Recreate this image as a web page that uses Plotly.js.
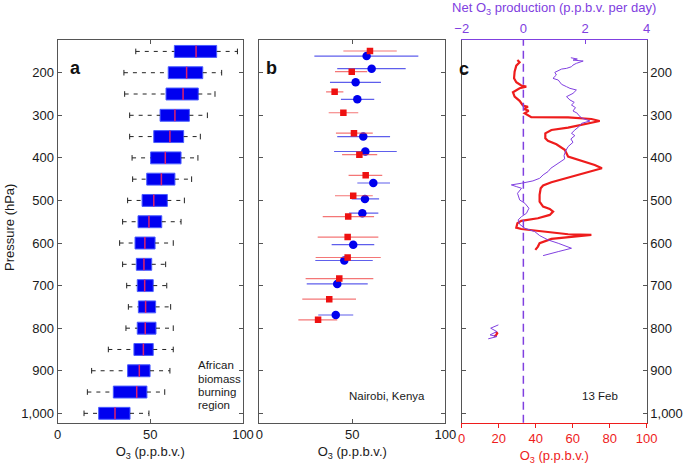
<!DOCTYPE html>
<html>
<head>
<meta charset="utf-8">
<script src="https://cdn.plot.ly/plotly-3.0.1.min.js"></script>
<style>html,body{margin:0;padding:0;background:#fff;}#chart{width:685px;height:466px;}</style>
</head>
<body>
<div id="chart"></div>
<script>
// ---------- Panel a: box statistics (African biomass burning region) ----------
const boxP   = [150,200,250,300,350,400,450,500,550,600,650,700,750,800,850,900,950,1000];
const boxLow = [42.2,35.8,36.2,38.9,38.9,40.2,40.5,37.8,35.1,33.5,35.1,37.3,38.2,36.9,27.4,18.4,16.1,14.3];
const boxQ1  = [63,59.7,58.5,55.3,51.9,50.2,48.1,45.6,43.4,41.8,42.5,43,43.6,43,41.2,37.8,30.1,22.2];
const boxMed = [74.7,69.6,67.7,63.3,60.6,58.1,56,51.9,49.3,47.1,46.6,47,47.5,47.3,46.3,44.1,42.7,31];
const boxQ3  = [85.8,78.3,75.9,71.1,68,66.6,63.3,59.2,56.2,52.6,50.8,51.6,52.9,53.1,51.6,49.9,48.2,39.1];
const boxHigh= [97,88.5,84.9,80.8,77,75.7,72.3,68.4,66.6,62.4,58.3,58.9,61,62.4,62.4,60.6,57.8,49.3];

// ---------- Panel b: Nairobi, Kenya ----------
const blueP  = [161,190.6,222.5,262.5,350,385,459,496.5,530,604,641,696,769];
const blueO3 = [57.7,60.4,51.8,52.7,55.9,57,61.3,56.8,55.4,50.5,45.7,41.9,41.1];
const blueLo = [29.6,41.9,38,43.9,41.9,40.2,52.7,49.7,48.2,38.9,30.1,25.5,31.7];
const blueHi = [85.5,78.7,65.4,61.8,70.3,73.9,70.3,64.4,64,61.8,61,58.3,50.5];
const redP   = [149,197.6,245,294,342,392.5,441,489,538,586,634,683.5,732,780.5];
const redO3  = [59.5,49.7,40.5,45.2,50.9,53.8,57.2,50.5,47.8,47.5,47.5,43,37.6,31.6];
const redLo  = [45.2,40.7,35.9,37.3,41.2,44.5,48,40.7,34.1,31.4,30.3,24.9,23.1,21];
const redHi  = [73.9,58,45.2,53.2,61,63.4,66.1,61,61.7,64,65.3,61.3,52,41.9];

// ---------- Panel c: 13 Feb profile ----------
const o3P  = [170,175.6,183.4,197.5,213,222.5,230,232.6,236.5,245.9,256,266,277,280,285,289.6,295,300.6,304.5,305,308.7,313.4,321.2,329,334.5,342.3,354,360,368,381,397,407,416.6,424.4,433.8,441.6,447.9,457.3,465,471.4,487,502.8,514.4,520,526,534,541.8,548,553.6,563.8,567,573,579.4,581,584.8,590.3,600.5,608.3,616];
const o3V  = [30.1,31.3,29.5,28.6,28.3,29.5,32.2,34.9,31.3,27.7,28.6,31.3,33.1,35.8,33.7,36.2,34.0,35.8,37.6,57.5,70.1,74.6,66.5,57.5,48.5,45.2,45.2,46.6,51.2,55.7,57.5,64.7,71.9,75.8,68.3,61.1,55.7,48.5,44,42.7,42.1,42.1,44,47.6,49.4,47.6,41.2,32.2,30.1,29.5,32.2,44.8,57.5,70.1,61.1,48.5,42.1,41.2,39.8];
const o3LowP = [808,812,816,820];
const o3LowV = [18.5,19.2,18.6,17.5];
const prodP = [164.8,167.9,170.3,172.6,178,182,185.9,189.8,191.4,196,199.2,205.4,213.3,217.2,227.3,232.8,236.7,240.6,248.5,256.3,264,269.6,275.8,282,289.8,295.3,300.7,307,313.4,318.9,326.7,334.5,342.3,347.8,355.6,363.4,373.6,383.8,394.7,402.5,410.3,416.6,424.4,432.2,440,447.9,454.1,459.6,463.5,467.4,471.4,483.2,498.8,506.7,518.4,530.2,538,545.8,556,565.4,573.2,582.6,592.7,600.6,608.4,612.3,620.2,629.6];
const prodV = [1.54,1.75,1.61,1.94,1.72,1.61,1.56,1.40,1.24,1.13,1.02,1.07,0.96,1.13,1.24,1.40,1.51,1.72,1.61,1.40,1.51,1.65,1.56,1.69,1.61,1.75,1.80,1.91,2.16,1.89,1.80,1.67,1.56,1.67,1.54,1.61,1.45,1.37,1.32,1.34,1.18,1.02,0.89,0.80,0.64,0.53,0.31,-0.06,-0.39,-0.23,-0.06,-0.19,-0.12,0.05,0.18,0.10,-0.06,-0.17,-0.12,0.05,0.37,0.53,0.80,1.13,1.45,1.56,1.13,0.64];
const prodLowP = [792.3,800,808,815.7,819.7,825];
const prodLowV = [-0.81,-1.06,-0.86,-1.08,-0.86,-1.14];

const pTicks = [200,300,400,500,600,700,800,900,1000];
const pTickText = ['200','300','400','500','600','700','800','900','1,000'];
const o3TicksAB = [0,50,100];
const o3TicksC = [0,20,40,60,80,100];
const prodTicks = [-2,0,2,4];
const prodTickText = ['\u22122','0','2','4'];

// ---------- styling ----------
const W = 685, H = 466;
const FONT = 'Liberation Sans, Arial, Helvetica, sans-serif';
const RED = '#ee1c1c', PURPLE = '#8040e0', BLUE = '#0000f0', AX = '#555555', TXT = '#1a1a1a';
const fx = px => px / W;
const fy = py => 1 - py / H;
const yDom = [fy(422.7), fy(39.5)];
const pRange = [1022, 122];

// whiskers
const wx = [], wy = [];
boxP.forEach((p, i) => {
  wx.push(boxLow[i], boxQ1[i], null, boxQ3[i], boxHigh[i], null);
  wy.push(p, p, null, p, p, null);
});

const traces = [
  {type:'scatter', mode:'lines', x:wx, y:wy, xaxis:'x', yaxis:'y',
   line:{color:'#222', width:1, dash:'4px,5px'}, hoverinfo:'skip', showlegend:false},
  {type:'scatter', mode:'markers', x:boxLow.concat(boxHigh), y:boxP.concat(boxP), xaxis:'x', yaxis:'y',
   marker:{symbol:'line-ns-open', size:4, color:'#222', line:{color:'#222', width:1}}, showlegend:false},
  {type:'bar', orientation:'h', y:boxP, x:boxQ3.map((v,i)=>v-boxQ1[i]), base:boxQ1, width:28,
   xaxis:'x', yaxis:'y', marker:{color:BLUE, line:{color:'#4a5cff', width:1}}, showlegend:false},
  {type:'scatter', mode:'markers', x:boxMed, y:boxP, xaxis:'x', yaxis:'y',
   marker:{symbol:'line-ns-open', size:8.6, color:'#e0206a', line:{color:'#e0206a', width:1.5}}, showlegend:false},

  {type:'scatter', mode:'markers', x:blueO3, y:blueP, xaxis:'x2', yaxis:'y2',
   error_x:{type:'data', symmetric:false, array:blueHi.map((v,i)=>v-blueO3[i]), arrayminus:blueO3.map((v,i)=>v-blueLo[i]),
            color:'rgba(40,40,230,0.75)', thickness:1.2, width:0},
   marker:{symbol:'circle', size:8.5, color:'#0000ee'}, showlegend:false},
  {type:'scatter', mode:'markers', x:redO3, y:redP, xaxis:'x2', yaxis:'y2',
   error_x:{type:'data', symmetric:false, array:redHi.map((v,i)=>v-redO3[i]), arrayminus:redO3.map((v,i)=>v-redLo[i]),
            color:'rgba(240,60,60,0.7)', thickness:1.2, width:0},
   marker:{symbol:'square', size:6.5, color:'#ee1111'}, showlegend:false},

  {type:'scatter', mode:'lines', x:prodV, y:prodP, xaxis:'x4', yaxis:'y3',
   line:{color:PURPLE, width:1}, showlegend:false},
  {type:'scatter', mode:'lines', x:prodLowV, y:prodLowP, xaxis:'x4', yaxis:'y3',
   line:{color:PURPLE, width:1}, showlegend:false},
  {type:'scatter', mode:'lines', x:o3V, y:o3P, xaxis:'x3', yaxis:'y3',
   line:{color:RED, width:2.2}, showlegend:false},
  {type:'scatter', mode:'lines', x:o3LowV, y:o3LowP, xaxis:'x3', yaxis:'y3',
   line:{color:RED, width:2.2}, showlegend:false}
];

const tickFont = {family:FONT, size:13, color:TXT};
const titleFont = {family:FONT, size:13, color:TXT};
const baseX = {range:[0,100], showline:true, linecolor:AX, linewidth:1, ticks:'inside', ticklen:4, tickcolor:AX,
               showgrid:false, zeroline:false, tickfont:tickFont, automargin:false, fixedrange:true};
const baseY = {range:pRange, domain:yDom, showline:true, linecolor:AX, linewidth:1, ticks:'inside', ticklen:4, tickcolor:AX,
               tickvals:pTicks, ticktext:pTickText, showgrid:false, zeroline:false, tickfont:tickFont, automargin:false, fixedrange:true};

const layout = {
  width:W, height:H, margin:{l:0, r:0, t:0, b:0}, paper_bgcolor:'#fff', plot_bgcolor:'rgba(0,0,0,0)',
  font:{family:FONT, color:TXT}, showlegend:false, barmode:'overlay',
  xaxis: Object.assign({}, baseX, {domain:[fx(57.5), fx(243)], anchor:'y', mirror:'ticks', tickvals:o3TicksAB,
          title:{text:'O<sub>3</sub> (p.p.b.v.)', font:titleFont, standoff:5}}),
  yaxis: Object.assign({}, baseY, {anchor:'x', mirror:'ticks'}),
  xaxis2: Object.assign({}, baseX, {domain:[fx(259.3), fx(445.3)], anchor:'y2', mirror:'ticks', tickvals:o3TicksAB,
          title:{text:'O<sub>3</sub> (p.p.b.v.)', font:titleFont, standoff:5}}),
  yaxis2: Object.assign({}, baseY, {anchor:'x2', mirror:'ticks', showticklabels:false}),
  xaxis3: Object.assign({}, baseX, {domain:[fx(461.7), fx(646.7)], anchor:'y3', tickvals:o3TicksC, linecolor:RED,
          ticks:'outside', tickcolor:RED, ticklen:4, tickfont:{family:FONT, size:13, color:RED},
          title:{text:'O<sub>3</sub> (p.p.b.v.)', font:{family:FONT, size:13, color:RED}, standoff:5}}),
  xaxis4: {overlaying:'x3', side:'top', anchor:'y3', range:[-2,4], tickvals:prodTicks, ticktext:prodTickText,
          showline:true, linecolor:PURPLE, linewidth:1, ticks:'inside', ticklen:4, tickcolor:PURPLE,
          showgrid:false, zeroline:false, automargin:false, fixedrange:true,
          tickfont:{family:FONT, size:13, color:PURPLE},
          title:{text:'Net O<sub>3</sub> production (p.p.b.v. per day)', font:{family:FONT, size:13, color:PURPLE}, standoff:6}},
  yaxis3: Object.assign({}, baseY, {anchor:'x3', side:'right', mirror:'ticks'}),
  shapes:[
    {type:'line', xref:'x4', yref:'y3 domain', x0:0, x1:0, y0:0, y1:1,
     line:{color:PURPLE, width:1.5, dash:'8px,5px'}}
  ],
  annotations:[
    {xref:'paper', yref:'paper', x:fx(9), y:fy(228), text:'Pressure (hPa)', textangle:-90, showarrow:false,
     font:{family:FONT, size:13, color:TXT}, xanchor:'center', yanchor:'middle'},
    {xref:'paper', yref:'paper', x:fx(68), y:fy(56), text:'<b>a</b>', showarrow:false, font:{family:FONT, size:18, color:'#111'}},
    {xref:'paper', yref:'paper', x:fx(271), y:fy(56), text:'<b>b</b>', showarrow:false, font:{family:FONT, size:18, color:'#111'}},
    {xref:'paper', yref:'paper', x:fx(471.5), y:fy(57), text:'<b>c</b>', showarrow:false, font:{family:FONT, size:18, color:'#111'}},
    {xref:'paper', yref:'paper', x:fx(196), y:fy(373), text:'African', showarrow:false, xanchor:'left', font:{family:FONT, size:11.5, color:TXT}},
    {xref:'paper', yref:'paper', x:fx(196), y:fy(386.5), text:'biomass', showarrow:false, xanchor:'left', font:{family:FONT, size:11.5, color:TXT}},
    {xref:'paper', yref:'paper', x:fx(196), y:fy(400), text:'burning', showarrow:false, xanchor:'left', font:{family:FONT, size:11.5, color:TXT}},
    {xref:'paper', yref:'paper', x:fx(196), y:fy(413), text:'region', showarrow:false, xanchor:'left', font:{family:FONT, size:11.5, color:TXT}},
    {xref:'paper', yref:'paper', x:fx(427), y:fy(404), text:'Nairobi, Kenya', showarrow:false, xanchor:'right', font:{family:FONT, size:11.5, color:TXT}},
    {xref:'paper', yref:'paper', x:fx(620), y:fy(404), text:'13 Feb', showarrow:false, xanchor:'right', font:{family:FONT, size:11.5, color:TXT}}
  ]
};

Plotly.newPlot('chart', traces, layout, {staticPlot:true, displayModeBar:false});
</script>
</body>
</html>
